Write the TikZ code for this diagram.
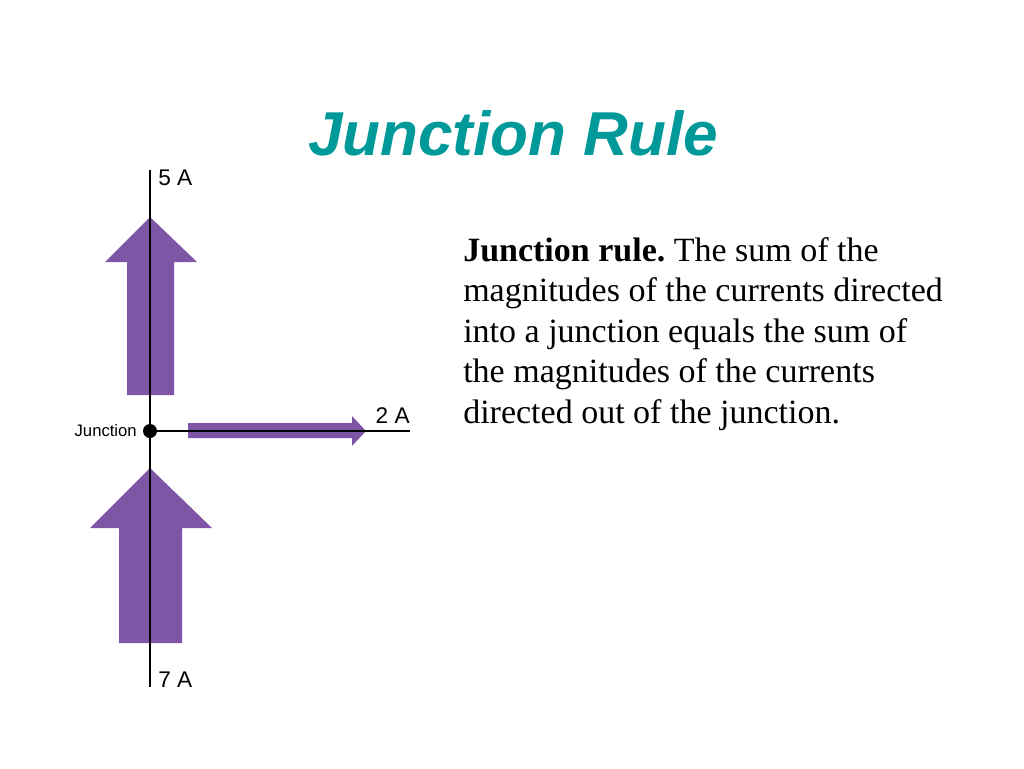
\documentclass[tikz,border=0pt]{standalone}
\usepackage{fontspec}
\setmainfont{Liberation Serif}
\newfontfamily\labelfont{Liberation Sans}
\usepackage{xcolor}
\usetikzlibrary{positioning}

\definecolor{rulepurple}{RGB}{127,85,166}
\definecolor{titleteal}{RGB}{0,153,153}

\begin{document}
\frenchspacing
\begin{tikzpicture}[
  x=0.75pt, y=-0.75pt,
  wire/.style={draw=black, line width=1.5pt},
  currentarrow/.style={fill=rulepurple, draw=none},
  amplabel/.style={font=\labelfont\fontsize{17}{20}\selectfont, inner sep=0pt},
  junctiondot/.style={circle, fill=black, inner sep=0pt, minimum size=10.5pt}
]

\useasboundingbox[fill=white] (0,0) rectangle (1024,768);

% title
\node[font=\labelfont\bfseries\itshape\fontsize{46.5}{50}\selectfont,
      text=titleteal, anchor=base] (title) at (513,155) {Junction Rule};

% wide current arrows (5 A up, 7 A up, 2 A right)
\fill[currentarrow] (127,395) -- (127,262) -- (105,262) -- (150,217)
  -- (197,262) -- (174,262) -- (174,395) -- cycle;
\fill[currentarrow] (119,643) -- (119,528) -- (90,528) -- (150,468)
  -- (212,528) -- (182,528) -- (182,643) -- cycle;
\fill[currentarrow] (188,423) -- (352,423) -- (352,416) -- (366,431)
  -- (352,446) -- (352,438) -- (188,438) -- cycle;

% wires
\node[junctiondot] (jn) at (150,431) {};
\coordinate (wtop) at (150,170);
\coordinate (wbot) at (150,687);
\coordinate (wright) at (410,431);

\draw[wire] (wtop) -- (jn);
\draw[wire] (jn) -- (wbot);
\draw[wire] (jn) -- (wright);

% labels
\node[amplabel, anchor=west] (lfive) at (158,178) {5 A};
\node[amplabel, anchor=west] (lseven) at (158,680) {7 A};
\node[amplabel, anchor=east] (ltwo) at (410,416) {2 A};
\node[amplabel, anchor=east, font=\labelfont\fontsize{12.5}{15}\selectfont]
  (ljn) at (137,431) {Junction};

% rule text
\node[anchor=north west, align=left, inner sep=0pt,
      font=\fontsize{25.5}{30.4}\selectfont] (ruletext) at (463,237)
  {\textbf{Junction rule.} The sum of the\\
   magnitudes of the currents directed\\
   into a junction equals the sum of\\
   the magnitudes of the currents\\
   directed out of the junction.};

\end{tikzpicture}
\end{document}
